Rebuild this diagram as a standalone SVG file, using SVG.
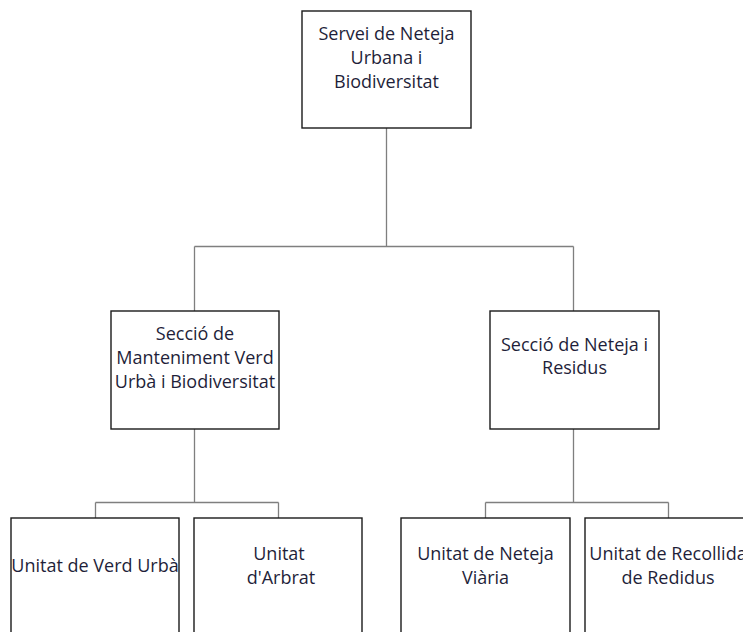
<svg xmlns="http://www.w3.org/2000/svg" width="743" height="632" viewBox="0 0 743 632">
<style>
.box{fill:#fff;stroke:#1a1a1a;stroke-width:1.4}
.t{font-family:"Open Sans","Noto Sans",sans-serif;font-size:18px;fill:#1f1f3a;text-anchor:middle}
.c{fill:none;stroke:#7f7f7f;stroke-width:1.3}
</style>
<rect width="743" height="632" fill="#fff"/>
<g id="connectors">
<path class="c" d="M386.5 128V246.5M194.5 246.5H573.5M194.5 246.5V311M573.5 246.5V311"/>
<path class="c" d="M194.5 429V502.5M95.5 502.5H278.5M95.5 502.5V518M278.5 502.5V518"/>
<path class="c" d="M573.5 429V502.5M485.5 502.5H668.5M485.5 502.5V518M668.5 502.5V518"/>
</g>
<g id="servei">
<rect class="box" x="302" y="11" width="169" height="117"/>
<text class="t" x="386.5" y="40">Servei de Neteja</text>
<text class="t" x="386.5" y="64">Urbana i</text>
<text class="t" x="386.5" y="88">Biodiversitat</text>
</g>
<g id="seccio-verd">
<rect class="box" x="111" y="311" width="168" height="118"/>
<text class="t" x="195" y="340">Secció de</text>
<text class="t" x="195" y="364">Manteniment Verd</text>
<text class="t" x="195" y="388">Urbà i Biodiversitat</text>
</g>
<g id="seccio-neteja">
<rect class="box" x="490" y="311" width="169" height="118"/>
<text class="t" x="574.5" y="351">Secció de Neteja i</text>
<text class="t" x="574.5" y="374">Residus</text>
</g>
<g id="unitat-verd">
<rect class="box" x="11" y="518" width="168" height="130"/>
<text class="t" x="95" y="572">Unitat de Verd Urbà</text>
</g>
<g id="unitat-arbrat">
<rect class="box" x="194" y="518" width="168" height="130"/>
<text class="t" x="279" y="560">Unitat</text>
<text class="t" x="281" y="584">d'Arbrat</text>
</g>
<g id="unitat-neteja">
<rect class="box" x="401" y="518" width="169" height="130"/>
<text class="t" x="485.5" y="560">Unitat de Neteja</text>
<text class="t" x="485.5" y="584">Viària</text>
</g>
<g id="unitat-recollida">
<rect class="box" x="585" y="518" width="168" height="130"/>
<text class="t" x="668" y="560">Unitat de Recollida</text>
<text class="t" x="668" y="584">de Redidus</text>
</g>
</svg>
